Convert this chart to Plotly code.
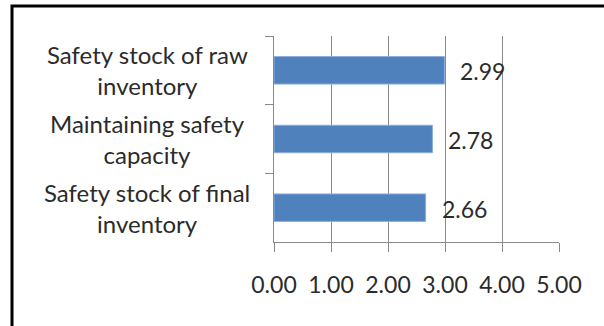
import plotly.graph_objects as go

categories = ["Safety stock of raw<br>inventory",
              "Maintaining safety<br>capacity",
              "Safety stock of final<br>inventory"]
values = [2.99, 2.78, 2.66]
value_labels = ["2.99", "2.78", "2.66"]
x_ticks = [0, 1, 2, 3, 4, 5]
x_tick_labels = ["0.00", "1.00", "2.00", "3.00", "4.00", "5.00"]

W, H = 604, 326
L, R, T, B = 274, 45, 36, 84
pw, ph = W - L - R, H - T - B

def px_x(p):
    return (p - L) / pw

def px_y(p):
    return (H - B - p) / ph

FONT = "Lato"
TXT = "#2b2b2b"
GRID = "#8a8a8a"

fig = go.Figure()
fig.add_trace(go.Bar(
    x=values, y=categories, orientation="h",
    marker=dict(color="#4F81BD", line=dict(color="#8AAEDB", width=1)),
    width=0.4, hoverinfo="skip",
))

annotations = []
for c, v, t in zip(categories, values, value_labels):
    annotations.append(dict(x=v, y=c, xref="x", yref="y", text=t, showarrow=False,
                            xanchor="left", yanchor="middle", xshift=14, yshift=-1,
                            font=dict(family=FONT, size=23, color=TXT)))
    annotations.append(dict(x=px_x(147), y=c, xref="paper", yref="y", text=c,
                            showarrow=False, xanchor="center", yanchor="middle",
                            align="center",
                            font=dict(family=FONT, size=24, color=TXT)))

fig.update_layout(
    width=W, height=H,
    margin=dict(l=L, r=R, t=T, b=B, pad=0),
    paper_bgcolor="white", plot_bgcolor="white",
    showlegend=False,
    annotations=annotations,
    shapes=[dict(type="rect", xref="paper", yref="paper",
                 x0=px_x(12), x1=px_x(640), y0=px_y(360), y1=px_y(6),
                 line=dict(color="black", width=3), fillcolor="rgba(0,0,0,0)",
                 layer="above")],
    xaxis=dict(range=[0, 5], tickvals=x_ticks, ticktext=x_tick_labels,
               showgrid=True, gridcolor=GRID, gridwidth=1,
               showline=True, linecolor=GRID, linewidth=1,
               ticks="outside", ticklen=9, tickcolor=GRID, tickwidth=1,
               ticklabelstandoff=13,
               tickfont=dict(family=FONT, size=23, color=TXT),
               zeroline=False, fixedrange=True),
    yaxis=dict(autorange="reversed", showticklabels=False,
               showline=True, linecolor=GRID, linewidth=1,
               ticks="outside", tickson="boundaries", ticklen=8,
               tickcolor=GRID, tickwidth=1, showgrid=False,
               zeroline=False, fixedrange=True),
)

fig.write_html("out.html")
